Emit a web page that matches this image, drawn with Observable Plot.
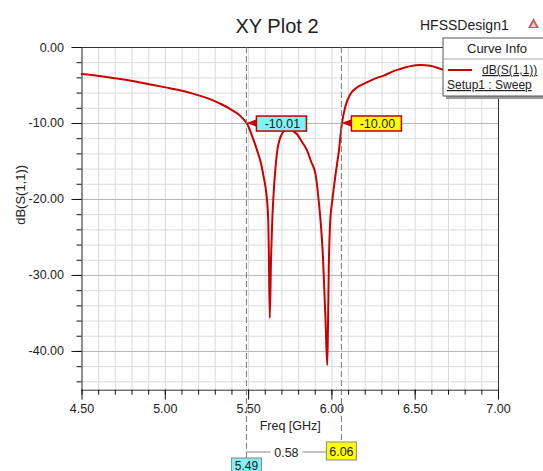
<!DOCTYPE html>
<html><head><meta charset="utf-8">
<script src="https://cdn.jsdelivr.net/npm/d3@7"></script>
<script src="https://cdn.jsdelivr.net/npm/@observablehq/plot@0.6"></script>
<style>
html,body{margin:0;padding:0;background:#fff;}
#chart{position:relative;width:543px;height:471px;overflow:hidden;}
</style></head><body><div id="chart"></div>
<script>
const freq = [4.50,4.60,4.70,4.77,4.85,4.92,5.00,5.08,5.17,5.23,5.29,5.34,5.39,5.42,5.45,5.47,5.49,5.52,5.552,5.575,5.591,5.603,5.611,5.618,5.622,5.627,5.635,5.642,5.651,5.66,5.672,5.685,5.702,5.72,5.735,5.75,5.77,5.792,5.82,5.852,5.875,5.902,5.921,5.932,5.945,5.952,5.962,5.972,5.977,5.981,5.99,6.002,6.022,6.042,6.06,6.082,6.112,6.152,6.20,6.232,6.27,6.312,6.35,6.392,6.43,6.472,6.53,6.59,6.65,6.70,6.80,6.90,7.00];
const s11 = [-3.5,-3.75,-4.05,-4.27,-4.6,-4.9,-5.25,-5.6,-6.1,-6.5,-7.0,-7.5,-8.1,-8.5,-9.0,-9.45,-10.01,-11.6,-13.6,-15.3,-17.1,-18.6,-20.2,-22.8,-27.7,-35.6,-27.5,-22.8,-18.9,-16.2,-13.6,-12.2,-11.3,-10.85,-10.7,-10.8,-11.05,-11.45,-12.4,-13.6,-15.0,-16.7,-20.2,-22.8,-27.0,-30.5,-36.0,-41.8,-36.0,-29.4,-22.8,-20.2,-16.7,-13.6,-10.0,-7.65,-6.1,-5.24,-4.7,-4.35,-4.0,-3.7,-3.3,-2.95,-2.7,-2.45,-2.3,-2.4,-2.8,-3.1,-3.8,-4.6,-5.4];
const xTicks = [4.5, 5.0, 5.5, 6.0, 6.5, 7.0];
const yTicks = [0, -10, -20, -30, -40];
const xDomain = [4.5, 7.0];
const yDomain = [-45.1, 0];
const markerFreq = [5.49, 6.06];
const markerDb = [-10.01, -10.00];
const markerLabels = ["-10.01", "-10.00"];
const markerFreqLabels = ["5.49", "6.06"];
const markerColors = ["#80f2f2", "#ffff00"];
const deltaLabel = "0.58";
const titleText = "XY Plot 2";
const designText = "HFSSDesign1";
const xLabel = "Freq [GHz]";
const yLabel = "dB(S(1,1))";
const legendTitle = "Curve Info";
const legendSeries = "dB(S(1,1))";
const legendSetup = "Setup1 : Sweep";

const FONT = "'Liberation Sans', Arial, sans-serif";
const data = freq.map((f, i) => ({f, db: s11[i]}));
const minorX = d3.range(45, 71).map(v => v / 10);
const minorY = d3.range(0, -46, -2);

const chart = Plot.plot({
  width: 543, height: 471,
  marginLeft: 81.5, marginRight: 45, marginTop: 47, marginBottom: 81.3,
  style: {fontFamily: FONT, fontSize: "12.5px", color: "#222", background: "#fff", overflow: "visible"},
  x: {domain: xDomain},
  y: {domain: yDomain},
  marks: [
    Plot.gridX(minorX, {stroke: "#dcdcdc", strokeOpacity: 1}),
    Plot.gridY(minorY, {stroke: "#dcdcdc", strokeOpacity: 1}),
    Plot.gridY(yTicks, {stroke: "#b8b8b8", strokeOpacity: 1}),
    Plot.frame({stroke: "#333"}),
    Plot.axisX(minorX, {tickSize: 5, tickFormat: () => "", label: null, stroke: "#111"}),
    Plot.axisX(xTicks, {tickSize: 10, tickPadding: 4, tickFormat: d => d.toFixed(2), label: null, stroke: "#111", fill: "#222"}),
    Plot.axisY(minorY, {tickSize: 5, tickFormat: () => "", label: null, stroke: "#111"}),
    Plot.axisY(yTicks, {tickSize: 10, tickPadding: 8, tickFormat: d => d.toFixed(2), label: null, stroke: "#111", fill: "#222"}),
    Plot.line(data, {x: "f", y: "db", stroke: "#cc0000", strokeWidth: 2, curve: "monotone-x"}),
    Plot.text([xLabel], {frameAnchor: "bottom", dy: 40, fontSize: 12.5, fill: "#222"}),
    Plot.text([yLabel], {frameAnchor: "left", dx: -61, dy: 6, rotate: -90, fontSize: 13, fill: "#222"})
  ]
});
document.getElementById("chart").appendChild(chart);

const sx = chart.scale("x"), sy = chart.scale("y");
const svg = d3.select(chart);
const g = svg.append("g").attr("font-family", FONT).attr("fill", "#222").attr("text-anchor", "start");

// title & design name
g.append("text").attr("x", 277).attr("y", 33).attr("text-anchor", "middle").attr("font-size", 20).text(titleText);
g.append("text").attr("x", 420).attr("y", 30).attr("text-anchor", "start").attr("font-size", 14).text(designText);
g.append("path").attr("d", "M533.5,18 L539,28 L528,28 Z").attr("fill", "#c86060");
g.append("path").attr("d", "M533.5,22 L536,27 L531,27 Z").attr("fill", "#f0d0d0");

const X = markerFreq.map(f => sx.apply(f));
const Y = markerDb.map(v => sy.apply(v));
const yTop = sy.apply(0);
const boxTop = [459, 442];

// dashed marker lines
X.forEach((x, i) => {
  g.append("line").attr("x1", x).attr("x2", x).attr("y1", yTop).attr("y2", boxTop[i])
    .attr("stroke", "#777").attr("stroke-dasharray", "6,3").attr("stroke-width", 1);
});

// delta readout
const dEnd = X[1] - 15;
g.append("line").attr("x1", X[0]).attr("x2", dEnd).attr("y1", 452).attr("y2", 452).attr("stroke", "#888");
g.append("rect").attr("x", (X[0] + dEnd) / 2 - 16).attr("y", 445).attr("width", 32).attr("height", 14).attr("fill", "#fff");
g.append("text").attr("x", (X[0] + dEnd) / 2).attr("y", 456.5).attr("text-anchor", "middle").attr("font-size", 12.5).text(deltaLabel);

// freq readout boxes
g.append("rect").attr("x", X[1] - 15).attr("y", 442).attr("width", 30).attr("height", 18)
  .attr("fill", markerColors[1]).attr("stroke", "#888");
g.append("text").attr("x", X[1]).attr("y", 455.5).attr("text-anchor", "middle").attr("font-size", 12.5).text(markerFreqLabels[1]);
g.append("rect").attr("x", X[0] - 15).attr("y", 458).attr("width", 30).attr("height", 16)
  .attr("fill", markerColors[0]).attr("stroke", "#888");
g.append("text").attr("x", X[0]).attr("y", 469.5).attr("text-anchor", "middle").attr("font-size", 12).text(markerFreqLabels[0]);

// in-plot callouts
X.forEach((x, i) => {
  const y = Y[i];
  g.append("path").attr("d", `M${x},${y} L${x + 11},${y - 4} L${x + 11},${y + 4} Z`).attr("fill", "#cc0000");
  g.append("rect").attr("x", x + 10).attr("y", y - 7).attr("width", 50).attr("height", 15)
    .attr("fill", markerColors[i]).attr("stroke", "#c00000").attr("stroke-width", 1.5);
  g.append("text").attr("x", x + 36).attr("y", y + 5).attr("text-anchor", "middle").attr("font-size", 12.5).text(markerLabels[i]);
});

// legend
const lg = g.append("g");
lg.append("rect").attr("x", 446).attr("y", 41).attr("width", 110).attr("height", 58).attr("fill", "#999");
lg.append("rect").attr("x", 443).attr("y", 38).attr("width", 110).attr("height", 58).attr("fill", "#fff").attr("stroke", "#555");
lg.append("line").attr("x1", 443).attr("x2", 553).attr("y1", 59).attr("y2", 59).attr("stroke", "#aaa");
lg.append("text").attr("x", 497).attr("y", 53).attr("text-anchor", "middle").attr("font-size", 13).text(legendTitle);
lg.append("line").attr("x1", 448).attr("x2", 472).attr("y1", 70).attr("y2", 70).attr("stroke", "#cc0000").attr("stroke-width", 2);
lg.append("text").attr("x", 482).attr("y", 74).attr("text-anchor", "start").attr("font-size", 12).attr("text-decoration", "underline").text(legendSeries);
lg.append("text").attr("x", 447).attr("y", 89).attr("text-anchor", "start").attr("font-size", 12).attr("text-decoration", "underline").text(legendSetup);
</script></body></html>
